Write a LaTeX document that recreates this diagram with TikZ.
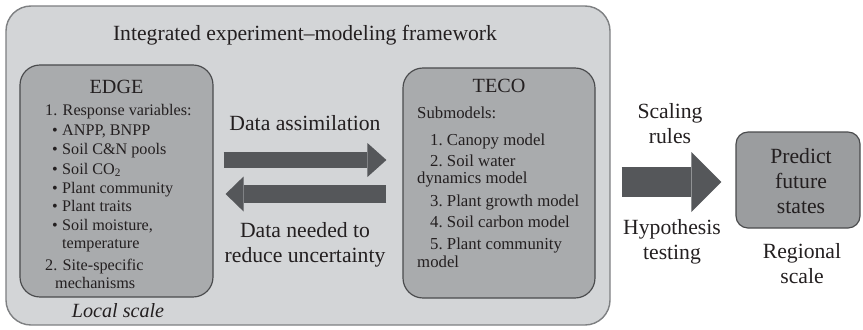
\documentclass[tikz,border=0pt]{standalone}
\usepackage{fontspec}
\setmainfont{Liberation Serif}
\usepackage{tikz}
\usetikzlibrary{arrows.meta}
\definecolor{framefill}{HTML}{D3D5D7}
\definecolor{framedraw}{HTML}{7E8082}
\definecolor{boxfill}{HTML}{A9ABAD}
\definecolor{boxdraw}{HTML}{4A4B4D}
\definecolor{arrowgray}{HTML}{55575A}
\definecolor{ink}{HTML}{231F20}
\tikzstyle{framebox}=[rectangle, draw=framedraw, fill=framefill, line width=1.2pt, rounded corners=0.75cm]
\tikzstyle{modelbox}=[rectangle, draw=boxdraw, fill=boxfill, line width=1pt, rounded corners=0.6cm]
\tikzstyle{bigtxt}=[inner sep=0pt, anchor=base, text=ink, align=center, font=\fontsize{18.5}{21.3}\selectfont]
\tikzstyle{boxtitle}=[inner sep=0pt, anchor=base, text=ink, font=\fontsize{17.2}{20}\selectfont]
\tikzstyle{edgetxt}=[inner sep=0pt, anchor=base west, text=ink, font=\fontsize{13.8}{16}\selectfont]
\tikzstyle{tecotxt}=[inner sep=0pt, anchor=base west, text=ink, font=\fontsize{14.3}{16}\selectfont]
\newcommand{\bul}{\makebox[0.3cm][l]{\textbullet}}

\begin{document}
\begin{tikzpicture}[x=0.03cm,y=-0.03cm]
            \useasboundingbox (0,0) rectangle (863,329);
            % Cajas
            \node[framebox, minimum width=18.12cm, minimum height=9.57cm] (frame) at (308,165.5) {};
            \node[modelbox, minimum width=5.79cm, minimum height=6.96cm] (edge) at (116.5,181) {};
            \node[modelbox, minimum width=5.76cm, minimum height=6.9cm] (teco) at (499,183) {};
            \node[modelbox, fill=boxfill!92!black, rounded corners=0.36cm, minimum width=3.72cm, minimum height=2.88cm] (predict) at (798,180) {};
            % Titulos
            \node[bigtxt] (title) at (305,40) {Integrated experiment--modeling framework};
            \node[boxtitle] (edgetitle) at (116.5,93) {EDGE};
            \node[boxtitle] (tecotitle) at (499,92) {TECO};
            \node[boxtitle] (local) at (118,317) {\itshape Local scale};
            % Lista EDGE
            \foreach \x/\y/\t in {45/115/{1. Response variables:}, 52/135/{\bul ANPP, BNPP},
                52/154/{\bul Soil C\&N pools}, 52/174/{\bul Soil CO\textsubscript{2}},
                52/193/{\bul Plant community}, 52/211/{\bul Plant traits},
                52/230/{\bul Soil moisture,}, 62/248/{temperature},
                45/270/{2. Site-specific}, 55/288/{mechanisms}}
                \node[edgetxt] (e\y) at (\x,\y) {\t};
            % Lista TECO
            \foreach \x/\y/\t in {417/118/{Submodels:}, 430/145/{1.~Canopy model},
                430/166/{2.~Soil water}, 417/183/{dynamics model},
                430/206/{3.~Plant growth model}, 430/227/{4.~Soil carbon model},
                430/249/{5.~Plant community}, 417/267/{model}}
                \node[tecotxt] (t\y) at (\x,\y) {\t};
            % Etiquetas (base = ultima linea)
            \node[bigtxt] (assim) at (305,130) {Data assimilation};
            \node[bigtxt] (needed) at (305,262) {Data needed to\\reduce uncertainty};
            \node[bigtxt] (scaling) at (670,143) {Scaling\\rules};
            \node[bigtxt] (hypo) at (672,259) {Hypothesis\\testing};
            \node[bigtxt] (predtxt) at (801,213) {Predict\\future\\states};
            \node[bigtxt] (regional) at (802,283) {Regional\\scale};
            % Flechas
            \draw[arrowgray, line width=0.5cm, shorten <=0.3cm, shorten >=0.48cm,
                -{Triangle[width=1.02cm, length=0.57cm, line width=0pt]}]
                (edge.east |- 0,160) -- (teco.west |- 0,160);
            \draw[arrowgray, line width=0.53cm, shorten <=0.48cm, shorten >=0.36cm,
                -{Triangle[width=1.05cm, length=0.54cm, line width=0pt]}]
                (teco.west |- 0,194) -- (edge.east |- 0,194);
            \draw[arrowgray, line width=0.9cm, shorten <=0.33cm, shorten >=0.42cm,
                -{Triangle[width=1.8cm, length=0.9cm, line width=0pt]}]
                (frame.east |- 0,182) -- (predict.west |- 0,182);
        \end{tikzpicture}
\end{document}
